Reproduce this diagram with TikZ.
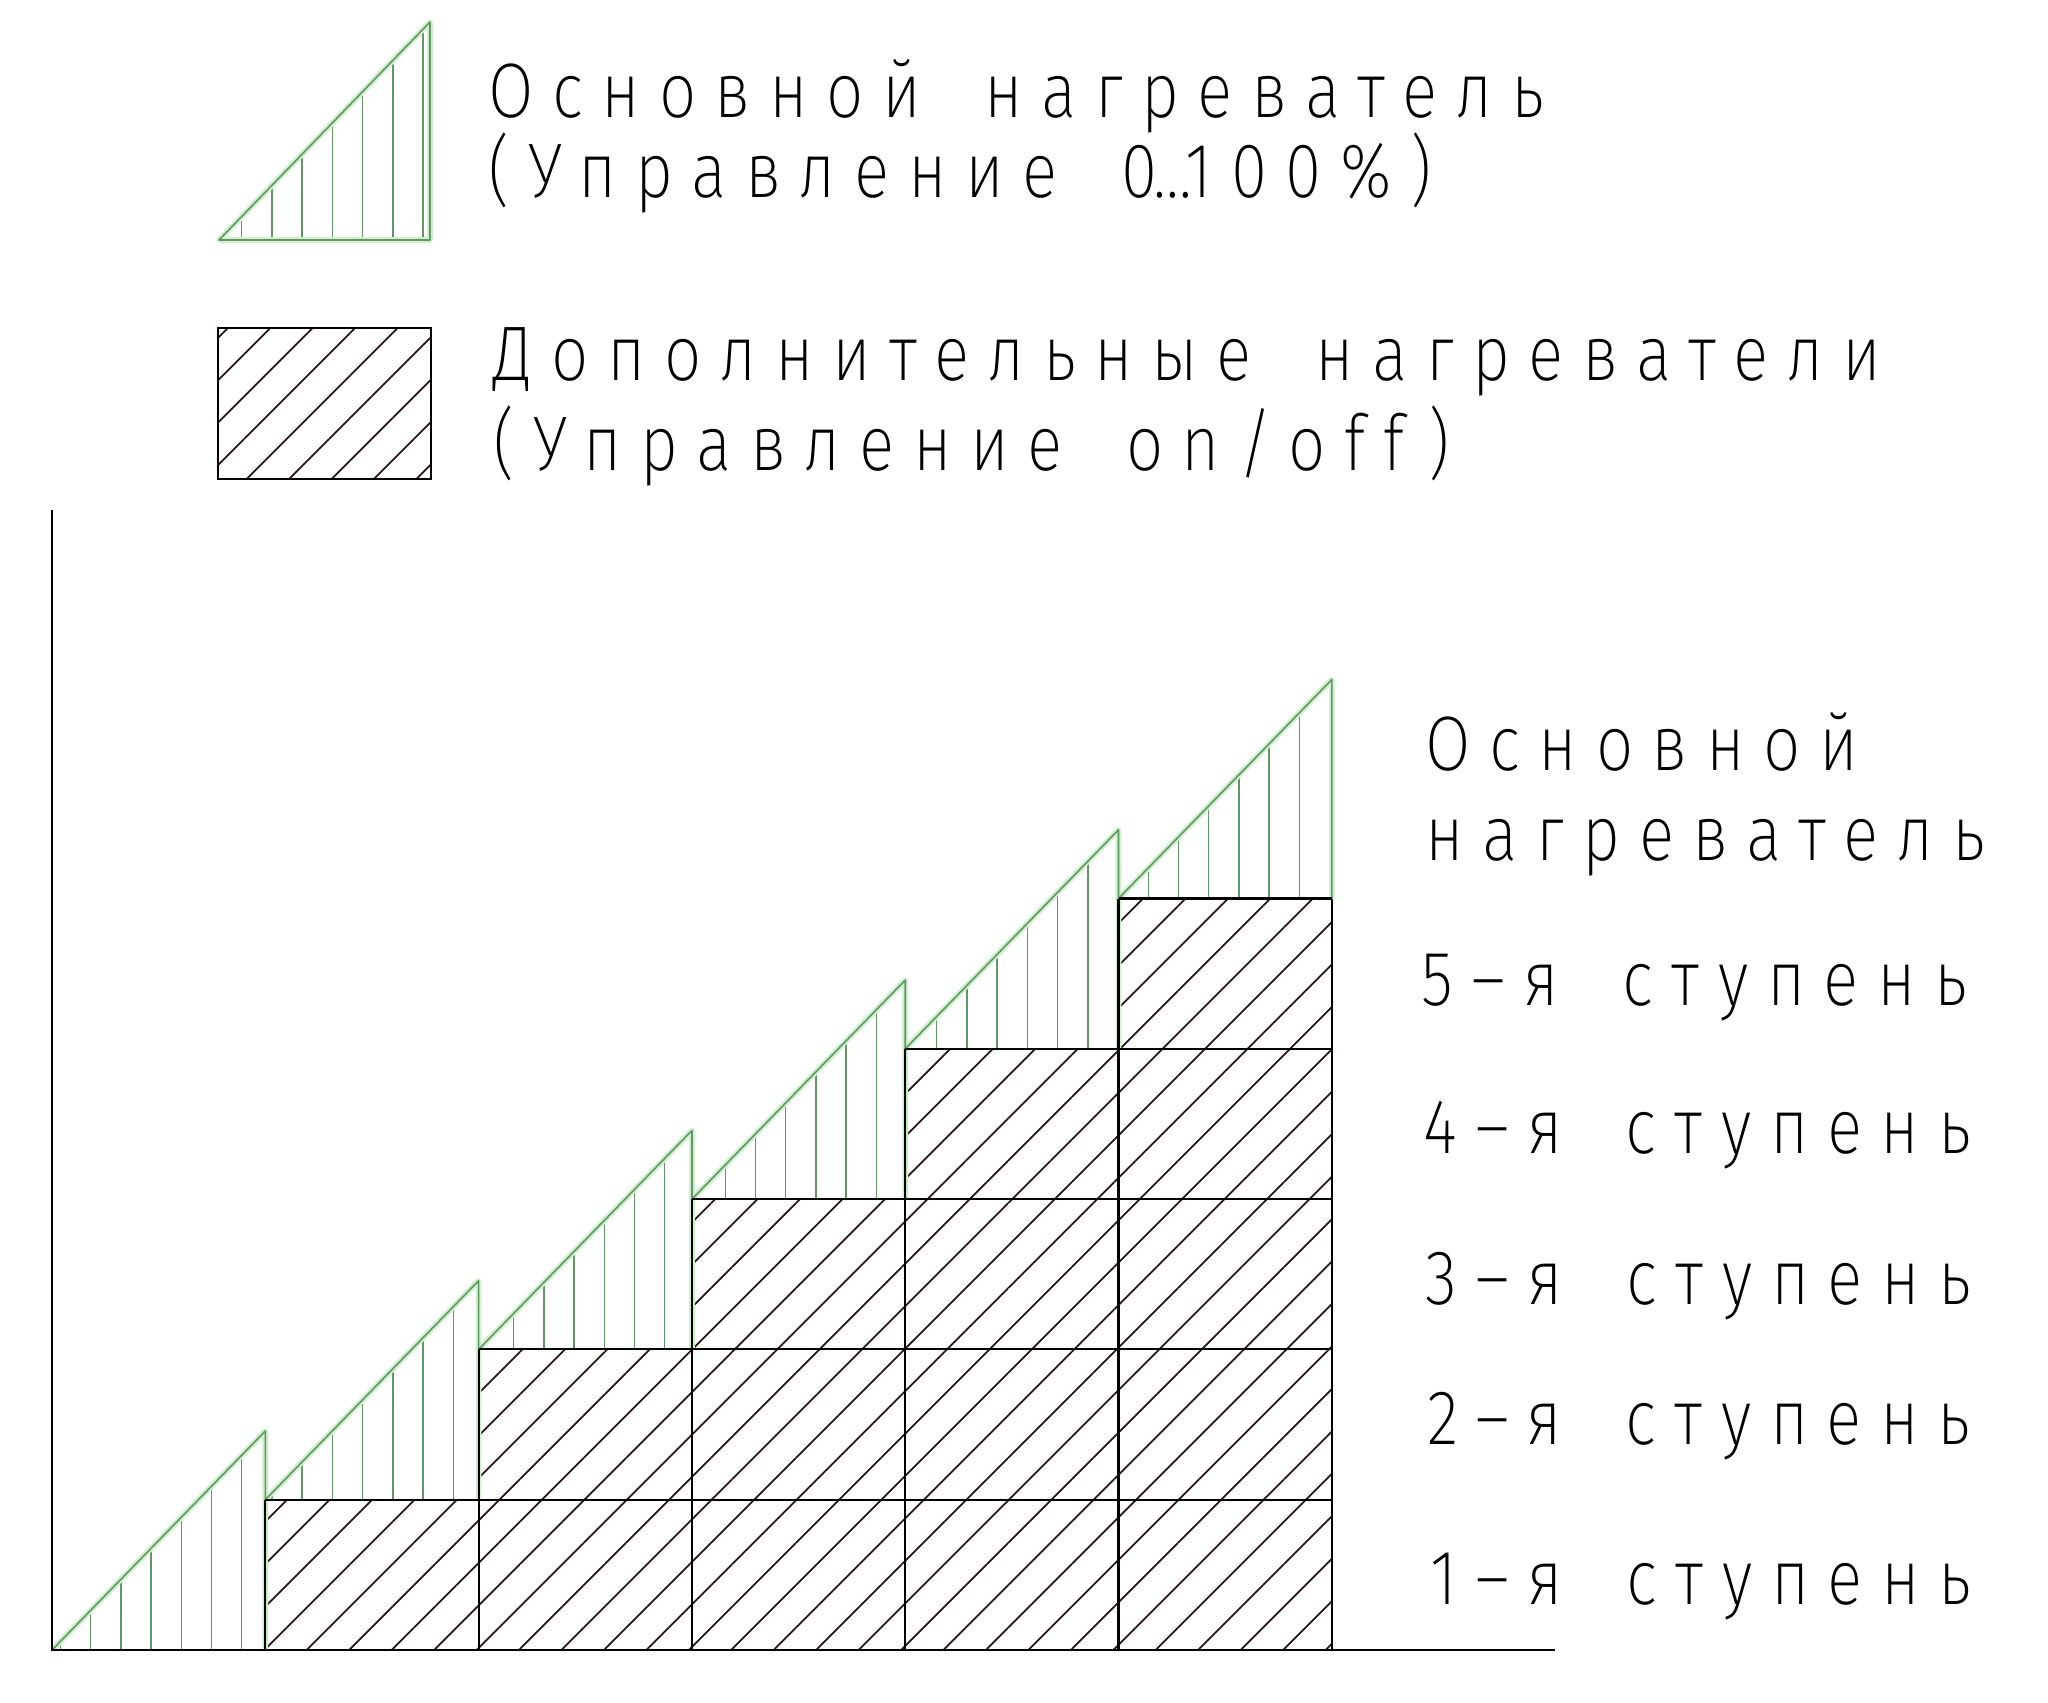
\documentclass[tikz,border=0pt]{standalone}
\usepackage{fontspec}
\newfontfamily\cadfont{Fira Sans ExtraLight}[LetterSpace=24,FakeStretch=0.85,WordSpace=1.7]
\usetikzlibrary{patterns,patterns.meta}
\definecolor{heatgreen}{RGB}{100,150,100}
\definecolor{heatglow}{RGB}{205,240,205}
\definecolor{hatchdark}{RGB}{40,22,22}
\tikzset{
	lbl/.style={font=\cadfont\fontsize{22}{26}\selectfont, anchor=base west, inner sep=0pt},
	vhatch/.style={pattern={Lines[angle=90,distance=3.02mm,line width=0.4pt]}, pattern color=heatgreen},
	dhatch/.style={pattern={Lines[angle=45,distance=3mm,line width=0.5pt]}, pattern color=hatchdark},
	glow/.style={line width=1.6pt, color=heatglow, line join=round},
	edge/.style={line width=0.45pt, color=heatgreen, line join=round},
	grid/.style={line width=0.6pt, color=black}
}

\begin{document}
\begin{tikzpicture}[x=0.01cm, y=-0.01cm]
			%%%%% LEGEND %%%%%
			\useasboundingbox (0, 0) rectangle (2048, 1702);
			
			\fill[vhatch] (219, 240) -- (430, 240) -- (430, 22) -- cycle;
			\draw[glow] (219, 240) -- (430, 240) -- (430, 22) -- cycle;
			\draw[edge] (219, 240) -- (430, 240) -- (430, 22) -- cycle;
			
			\fill[dhatch] (218, 328) rectangle (431, 479);
			\draw[grid] (218, 328) rectangle (431, 479);
			
			\node[lbl] (legmain) at (488, 117) {Основной нагреватель};
			\node[lbl] (legmainctl) at (488, 197) {(Управление 0\kern-0.05em…\kern-0.08em 100\%)};
			\node[lbl] (legextra) at (493, 380) {Дополнительные нагреватели};
			\node[lbl] (legextractl) at (493, 470) {(Управление on/off)};
			
			%%%%% STEPS %%%%%
			\fill[dhatch] (265.3, 1650) -- (265.3, 1499.7) -- (478.6, 1499.7) -- (478.6, 1349.4) -- (692, 1349.4) -- (692, 1199.1) -- (905.2, 1199.1) -- (905.2, 1048.8) -- (1118.5, 1048.8) -- (1118.5, 898.5) -- (1331.8, 898.5) -- (1331.8, 1650) -- cycle;
			
			%%%%% MAIN HEATER %%%%%
			\fill[vhatch] (52, 1650) -- (265.3, 1650) -- (265.3, 1431) -- cycle;
			\fill[vhatch] (265.3, 1499.7) -- (478.6, 1499.7) -- (478.6, 1280.7) -- cycle;
			\fill[vhatch] (478.6, 1349.4) -- (692, 1349.4) -- (692, 1130.4) -- cycle;
			\fill[vhatch] (692, 1199.1) -- (905.2, 1199.1) -- (905.2, 980.1) -- cycle;
			\fill[vhatch] (905.2, 1048.8) -- (1118.5, 1048.8) -- (1118.5, 829.8) -- cycle;
			\fill[vhatch] (1118.5, 898.5) -- (1331.8, 898.5) -- (1331.8, 679.5) -- cycle;
			
			\draw[glow] (52, 1650) -- (265.3, 1431) -- (265.3, 1650);
			\draw[glow] (265.3, 1499.7) -- (478.6, 1280.7) -- (478.6, 1499.7);
			\draw[glow] (478.6, 1349.4) -- (692, 1130.4) -- (692, 1349.4);
			\draw[glow] (692, 1199.1) -- (905.2, 980.1) -- (905.2, 1199.1);
			\draw[glow] (905.2, 1048.8) -- (1118.5, 829.8) -- (1118.5, 1048.8);
			\draw[glow] (1118.5, 898.5) -- (1331.8, 679.5) -- (1331.8, 898.5);
			
			\draw[edge] (52, 1650) -- (265.3, 1431) -- (265.3, 1650);
			\draw[edge] (265.3, 1499.7) -- (478.6, 1280.7) -- (478.6, 1499.7);
			\draw[edge] (478.6, 1349.4) -- (692, 1130.4) -- (692, 1349.4);
			\draw[edge] (692, 1199.1) -- (905.2, 980.1) -- (905.2, 1199.1);
			\draw[edge] (905.2, 1048.8) -- (1118.5, 829.8) -- (1118.5, 1048.8);
			\draw[edge] (1118.5, 898.5) -- (1331.8, 679.5) -- (1331.8, 898.5);
			
			%%%%% GRID %%%%%
			\draw[grid] (265.3, 1499.7) -- (1331.8, 1499.7);
			\draw[grid] (478.6, 1349.4) -- (1331.8, 1349.4);
			\draw[grid] (692, 1199.1) -- (1331.8, 1199.1);
			\draw[grid] (905.2, 1048.8) -- (1331.8, 1048.8);
			\draw[grid] (1118.5, 898.5) -- (1331.8, 898.5);
			
			\draw[grid] (265.3, 1650) -- (265.3, 1499.7);
			\draw[grid] (478.6, 1650) -- (478.6, 1349.4);
			\draw[grid] (692, 1650) -- (692, 1199.1);
			\draw[grid] (905.2, 1650) -- (905.2, 1048.8);
			\draw[grid] (1118.5, 1650) -- (1118.5, 898.5);
			\draw[grid] (1331.8, 1650) -- (1331.8, 898.5);
			
			\draw[grid] (52, 510) -- (52, 1650) -- (1555, 1650);
			
			%%%%% LABELS %%%%%
			\node[lbl] (mainup) at (1425, 770) {Основной};
			\node[lbl] (maindown) at (1425, 860) {нагреватель};
			\node[lbl] (stepfive) at (1421, 1005) {5–я ступень};
			\node[lbl] (stepfour) at (1423, 1153) {4–я ступень};
			\node[lbl] (stepthree) at (1425, 1304) {3–я ступень};
			\node[lbl] (steptwo) at (1427, 1444) {2–я ступень};
			\node[lbl] (stepone) at (1430, 1604) {1–я ступень};
			
			%%%%% END %%%%%
\end{tikzpicture}
\end{document}
